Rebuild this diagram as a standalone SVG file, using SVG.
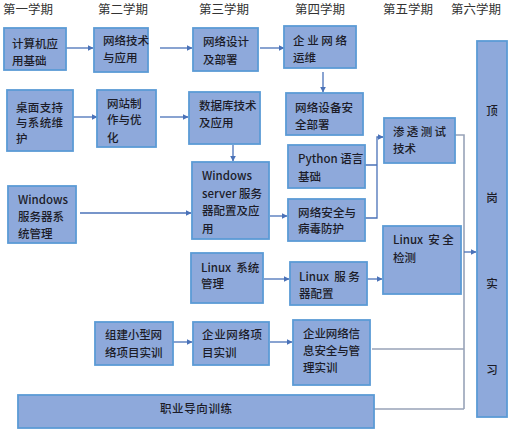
<svg xmlns="http://www.w3.org/2000/svg" width="516" height="438" viewBox="0 0 516 438">
<style>
.hd{font-family:"Noto Sans CJK SC","Noto Sans",sans-serif;font-size:12.5px;fill:#333}
.bx{fill:#8EA9DB;stroke:#5B9BD5;stroke-width:1.8}
.t{font-family:"Noto Sans CJK SC","Noto Sans",sans-serif;font-size:11.5px;font-weight:500;fill:#1c1c28;dominant-baseline:central;white-space:pre}
.c{stroke:#4A72B8;stroke-width:1.3;fill:none}
.g{stroke:#98A3B8;stroke-width:1.6;fill:none}
</style>
<defs>
<marker id="ah" viewBox="0 0 10 10" refX="9" refY="5" markerWidth="6" markerHeight="6" markerUnits="userSpaceOnUse" orient="auto"><path d="M0,0L10,5L0,10z" fill="#4A72B8"/></marker>
</defs>
<rect width="516" height="438" fill="#fff"/>
<g id="headers">
<text class="hd" x="3" y="14">第一学期</text>
<text class="hd" x="98" y="14">第二学期</text>
<text class="hd" x="199" y="14">第三学期</text>
<text class="hd" x="295" y="14">第四学期</text>
<text class="hd" x="383" y="14">第五学期</text>
<text class="hd" x="451" y="14">第六学期</text>
</g>
<g id="connectors">
<path class="c" d="M66,48H93" marker-end="url(#ah)"/>
<path class="c" d="M160,48H192" marker-end="url(#ah)"/>
<path class="c" d="M260,48H284" marker-end="url(#ah)"/>
<path class="c" d="M323,72V92" marker-end="url(#ah)"/>
<path class="c" d="M73,117H97" marker-end="url(#ah)"/>
<path class="c" d="M160,117H188" marker-end="url(#ah)"/>
<path class="c" d="M233,145V161" marker-end="url(#ah)"/>
<path class="c" d="M80,213H191" marker-end="url(#ah)"/>
<path class="c" d="M270,216H287" marker-end="url(#ah)"/>
<path class="c" d="M264,279H289" marker-end="url(#ah)"/>
<path class="c" d="M367,279H382" marker-end="url(#ah)"/>
<path class="c" d="M365,165H377M365,218H377V137H383" marker-end="url(#ah)"/>
<path class="c" d="M173,342H192" marker-end="url(#ah)"/>
<path class="c" d="M270,342H292" marker-end="url(#ah)"/>
<path class="g" d="M455,135H464V409M372,349H464M374,409H464"/>
<path class="c" d="M464,252H476" marker-end="url(#ah)"/>
</g>
<g id="n1"><rect class="bx" x="4" y="28" width="62" height="42"/><text class="t" x="12" y="43">计算机应</text><text class="t" x="12" y="60">用基础</text></g>
<g id="n2"><rect class="bx" x="94" y="28" width="54" height="44"/><text class="t" x="103" y="40">网络技术</text><text class="t" x="103" y="57">与应用</text></g>
<g id="n3"><rect class="bx" x="193" y="28" width="65" height="43"/><text class="t" x="203" y="41">网络设计</text><text class="t" x="203" y="59">及部署</text></g>
<g id="n4"><rect class="bx" x="284" y="26" width="72" height="42"/><text class="t" x="293" y="40" textLength="54" lengthAdjust="spacing">企业网络</text><text class="t" x="293" y="57">运维</text></g>
<g id="n5"><rect class="bx" x="286" y="93" width="77" height="42"/><text class="t" x="295" y="107" textLength="58" lengthAdjust="spacing">网络设备安</text><text class="t" x="295" y="124">全部署</text></g>
<g id="n6"><rect class="bx" x="384" y="118" width="71" height="45"/><text class="t" x="393" y="131" textLength="53" lengthAdjust="spacing">渗透测试</text><text class="t" x="393" y="148">技术</text></g>
<g id="n7"><rect class="bx" x="477" y="41" width="30" height="376"/><text class="t" x="492" y="110" text-anchor="middle">顶</text><text class="t" x="492" y="197" text-anchor="middle">岗</text><text class="t" x="492" y="283" text-anchor="middle">实</text><text class="t" x="492" y="369" text-anchor="middle">习</text></g>
<g id="n8"><rect class="bx" x="7" y="90" width="66" height="61"/><text class="t" x="16" y="107" textLength="47" lengthAdjust="spacing">桌面支持</text><text class="t" x="16" y="122" textLength="47" lengthAdjust="spacing">与系统维</text><text class="t" x="16" y="138">护</text></g>
<g id="n9"><rect class="bx" x="97" y="90" width="59" height="57"/><text class="t" x="107" y="103">网站制</text><text class="t" x="107" y="119">作与优</text><text class="t" x="107" y="137">化</text></g>
<g id="n10"><rect class="bx" x="189" y="92" width="71" height="52"/><text class="t" x="199" y="105">数据库技术</text><text class="t" x="199" y="122">及应用</text></g>
<g id="n11"><rect class="bx" x="8" y="186" width="68" height="57"/><text class="t" x="18" y="199">Windows</text><text class="t" x="18" y="216">服务器系</text><text class="t" x="18" y="233">统管理</text></g>
<g id="n12"><rect class="bx" x="192" y="162" width="77" height="77"/><text class="t" x="202" y="175">Windows</text><text class="t" x="202" y="193">server 服务</text><text class="t" x="202" y="210">器配置及应</text><text class="t" x="202" y="228">用</text></g>
<g id="n13"><rect class="bx" x="191" y="253" width="72" height="50"/><text class="t" x="201" y="267">Linux  系统</text><text class="t" x="201" y="283">管理</text></g>
<g id="n14"><rect class="bx" x="288" y="145" width="77" height="43"/><text class="t" x="298" y="158">Python 语言</text><text class="t" x="298" y="176">基础</text></g>
<g id="n15"><rect class="bx" x="288" y="199" width="77" height="42"/><text class="t" x="298" y="212" textLength="58" lengthAdjust="spacing">网络安全与</text><text class="t" x="298" y="228">病毒防护</text></g>
<g id="n16"><rect class="bx" x="383" y="226" width="78" height="68"/><text class="t" x="393" y="239">Linux  安 全</text><text class="t" x="393" y="257">检测</text></g>
<g id="n17"><rect class="bx" x="290" y="262" width="77" height="43"/><text class="t" x="299" y="276">Linux  服 务</text><text class="t" x="299" y="293">器配置</text></g>
<g id="n18"><rect class="bx" x="95" y="322" width="78" height="43"/><text class="t" x="105" y="334" textLength="57" lengthAdjust="spacing">组建小型网</text><text class="t" x="105" y="352">络项目实训</text></g>
<g id="n19"><rect class="bx" x="193" y="322" width="76" height="43"/><text class="t" x="202" y="334" textLength="60" lengthAdjust="spacing">企业网络项</text><text class="t" x="202" y="352">目实训</text></g>
<g id="n20"><rect class="bx" x="293" y="320" width="77" height="65"/><text class="t" x="303" y="333" textLength="57" lengthAdjust="spacing">企业网络信</text><text class="t" x="303" y="350" textLength="57" lengthAdjust="spacing">息安全与管</text><text class="t" x="303" y="367">理实训</text></g>
<g id="n21"><rect class="bx" x="18" y="395" width="356" height="33"/><text class="t" x="160" y="408" font-size="12" textLength="72" lengthAdjust="spacing">职业导向训练</text></g>
</svg>
